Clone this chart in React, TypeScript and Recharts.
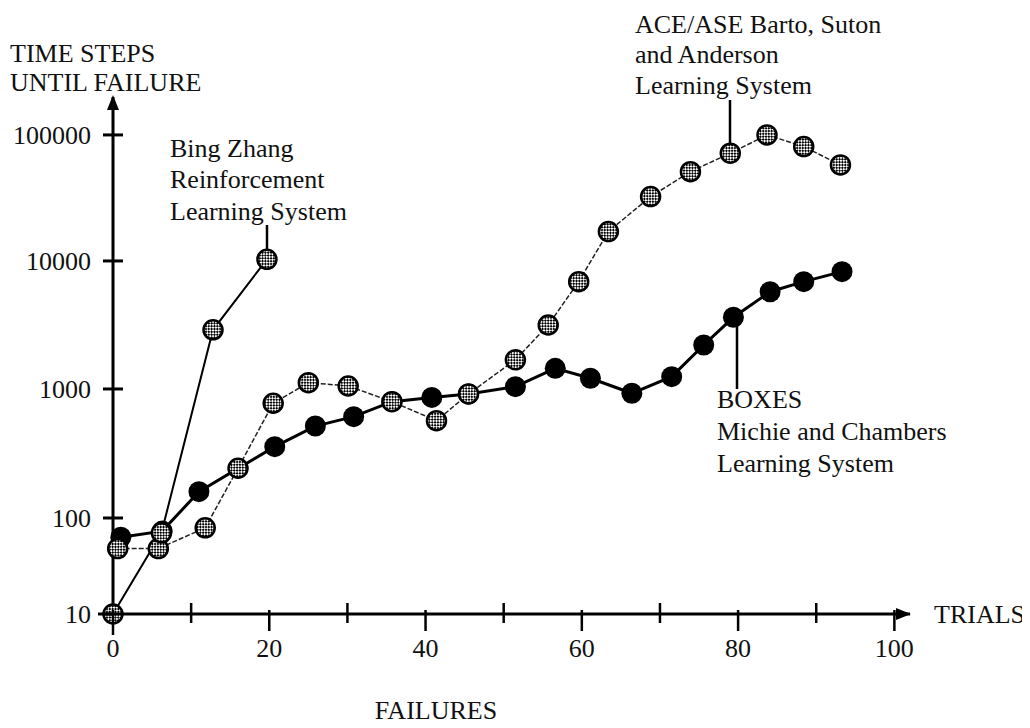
import { LineChart, Line, XAxis, YAxis } from 'recharts';

const FONT = '"Liberation Serif", "Times New Roman", serif';

// Bing Zhang reinforcement learning system
const zhangTrials = [0, 6.2, 12.8, 19.7];
const zhangSteps = [10, 70, 2900, 10300];

// ACE/ASE Barto, Sutton and Anderson
const aceTrials = [0.6, 5.8, 11.8, 16.0, 20.5, 25.0, 30.1, 35.7, 41.4, 45.5, 51.5, 55.7, 59.6, 63.4, 68.8, 73.9, 79.0, 83.7, 88.4, 93.1];
const aceSteps = [48, 48, 79, 243, 775, 1120, 1055, 797, 568, 915, 1690, 3160, 6890, 17100, 32400, 51100, 71600, 100000, 80800, 57800];

// BOXES Michie and Chambers
const boxesTrials = [1.0, 6.3, 11.0, 20.7, 25.9, 30.8, 35.7, 40.8, 45.5, 51.5, 56.6, 61.1, 66.4, 71.5, 75.6, 79.4, 84.1, 88.4, 93.3];
const boxesSteps = [63, 73, 160, 357, 516, 610, 797, 860, 915, 1043, 1450, 1213, 926, 1248, 2206, 3630, 5750, 6890, 8250];

const xTicks = [0, 10, 20, 30, 40, 50, 60, 70, 80, 90, 100];
const yTicks = [10, 100, 1000, 10000, 100000];

const toPoints = (trials: number[], steps: number[]) =>
  trials.map((t, i) => ({ trial: t, steps: steps[i] }));

const zhangData = toPoints(zhangTrials, zhangSteps);
const aceData = toPoints(aceTrials, aceSteps);
const boxesData = toPoints(boxesTrials, boxesSteps);

// log axis, but the original draws the first decade (10..100) shorter than the rest
const decadeStops = [1, 2, 3, 4, 5];
const decadeUnits = [0, 96, 225, 353, 479];

function unevenLog(domain: number[] = [10, 200000], range: number[] = [0, 1]): any {
  const u = (v: number) => {
    const l = Math.log10(Math.max(v, 1e-9));
    const n = decadeStops.length - 1;
    if (l <= decadeStops[0]) return decadeUnits[0] + (l - decadeStops[0]) * (decadeUnits[1] - decadeUnits[0]);
    for (let i = 1; i <= n; i++) {
      if (l <= decadeStops[i]) {
        const k = (l - decadeStops[i - 1]) / (decadeStops[i] - decadeStops[i - 1]);
        return decadeUnits[i - 1] + k * (decadeUnits[i] - decadeUnits[i - 1]);
      }
    }
    return decadeUnits[n] + (l - decadeStops[n]) * (decadeUnits[n] - decadeUnits[n - 1]);
  };
  const scale: any = (v: number) => {
    const a = u(domain[0]);
    const b = u(domain[1]);
    return range[0] + ((u(v) - a) / (b - a)) * (range[1] - range[0]);
  };
  scale.domain = (d?: any[]) => {
    if (d === undefined) return domain.slice();
    domain = d.map(Number);
    return scale;
  };
  scale.range = (r?: any[]) => {
    if (r === undefined) return range.slice();
    range = r.map(Number);
    return scale;
  };
  scale.copy = () => unevenLog(domain.slice(), range.slice());
  scale.ticks = () => yTicks;
  scale.tickFormat = () => (v: number) => String(v);
  scale.clamp = () => scale;
  return scale;
}

const yScale = unevenLog();

const YTick = (props: any) => {
  const { x, y, payload } = props;
  return (
    <g>
      <line x1={x - 10} x2={x + 10} y1={y} y2={y} stroke="#000" strokeWidth={3} />
      <text x={x - 22} y={y + 9} textAnchor="end" fontSize={26} fontFamily={FONT} fill="#111">
        {payload.value}
      </text>
    </g>
  );
};

const XTick = (props: any) => {
  const { x, y, payload } = props;
  const major = payload.value % 20 === 0;
  return (
    <g>
      <line
        x1={x}
        x2={x}
        y1={major ? y - 4 : y - 11}
        y2={major ? y + (payload.value === 0 ? 21 : 17) : y + 9}
        stroke="#000"
        strokeWidth={2.5}
      />
      {major && (
        <text x={x} y={y + 43} textAnchor="middle" fontSize={26} fontFamily={FONT} fill="#111">
          {payload.value}
        </text>
      )}
    </g>
  );
};

const hatchDot = (props: any) => {
  const { cx, cy, index } = props;
  if (cx == null || cy == null) return <g key={`h-${index}`} />;
  return <circle key={`h-${index}`} cx={cx} cy={cy} r={9.5} fill="url(#hatch)" stroke="#000" strokeWidth={2.5} />;
};

const solidDot = (props: any) => {
  const { cx, cy, index } = props;
  if (cx == null || cy == null) return <g key={`s-${index}`} />;
  return <circle key={`s-${index}`} cx={cx} cy={cy} r={10.5} fill="#000" />;
};

const textStyle = { fontSize: 26, fontFamily: FONT, fill: '#111' };

export default function App() {
  return (
    <div style={{ position: 'relative', width: 1014, height: 712, background: '#fff' }}>
      <svg width={0} height={0} style={{ position: 'absolute' }}>
        <defs>
          <pattern id="hatch" width={4} height={4} patternUnits="userSpaceOnUse" patternTransform="rotate(45)">
            <rect width={4} height={4} fill="#fff" />
            <rect width={2} height={2} fill="#000" />
            <rect x={2} y={2} width={2} height={2} fill="#000" />
          </pattern>
        </defs>
      </svg>
      <LineChart width={1014} height={712} margin={{ top: 89, right: 112, bottom: 66, left: 10 }}>
        <XAxis
          type="number"
          dataKey="trial"
          domain={[0, 102]}
          ticks={xTicks}
          interval={0}
          tickSize={0}
          tickMargin={0}
          tickLine={false}
          axisLine={{ stroke: '#000', strokeWidth: 3 }}
          tick={<XTick />}
          height={40}
        />
        <YAxis
          type="number"
          dataKey="steps"
          scale={yScale}
          domain={[10, 200000]}
          ticks={yTicks}
          interval={0}
          tickSize={0}
          tickMargin={0}
          tickLine={false}
          axisLine={{ stroke: '#000', strokeWidth: 3 }}
          tick={<YTick />}
          width={95}
        />
        <Line
          data={boxesData}
          dataKey="steps"
          stroke="#000"
          strokeWidth={3}
          dot={solidDot}
          activeDot={false}
          isAnimationActive={false}
        />
        <Line
          data={aceData}
          dataKey="steps"
          stroke="#222"
          strokeWidth={1.5}
          strokeDasharray="5 2"
          dot={hatchDot}
          activeDot={false}
          isAnimationActive={false}
        />
        <Line
          data={zhangData}
          dataKey="steps"
          stroke="#000"
          strokeWidth={2}
          dot={hatchDot}
          activeDot={false}
          isAnimationActive={false}
        />
      </LineChart>
      <svg
        width={1014}
        height={712}
        style={{ position: 'absolute', left: 0, top: 0, pointerEvents: 'none', overflow: 'visible' }}
      >
        {/* axis arrows and the short stub left of the origin */}
        <polygon points="105,87 99,102 111,102" fill="#000" />
        <line x1={90} x2={105} y1={606} y2={606} stroke="#000" strokeWidth={3} />
        <polygon points="903,606 888,600 888,612" fill="#000" />

        <text x={2} y={54} {...textStyle}>TIME STEPS</text>
        <text x={2} y={83} {...textStyle}>UNTIL FAILURE</text>
        <text x={926} y={615} {...textStyle}>TRIALS</text>
        <text x={428} y={711} textAnchor="middle" {...textStyle}>FAILURES</text>

        <text x={162} y={149} {...textStyle}>Bing Zhang</text>
        <text x={162} y={180} {...textStyle}>Reinforcement</text>
        <text x={162} y={212} {...textStyle}>Learning System</text>
        <line x1={259} x2={259} y1={217} y2={242} stroke="#000" strokeWidth={2.5} />

        <text x={627} y={25} {...textStyle}>ACE/ASE Barto, Suton</text>
        <text x={627} y={55} {...textStyle}>and Anderson</text>
        <text x={627} y={86} {...textStyle}>Learning System</text>
        <line x1={722} x2={722} y1={92} y2={136} stroke="#000" strokeWidth={2.5} />

        <text x={709} y={400} {...textStyle}>BOXES</text>
        <text x={709} y={432} {...textStyle}>Michie and Chambers</text>
        <text x={709} y={464} {...textStyle}>Learning System</text>
        <line x1={729} x2={729} y1={318} y2={381} stroke="#000" strokeWidth={2.5} />
      </svg>
    </div>
  );
}
